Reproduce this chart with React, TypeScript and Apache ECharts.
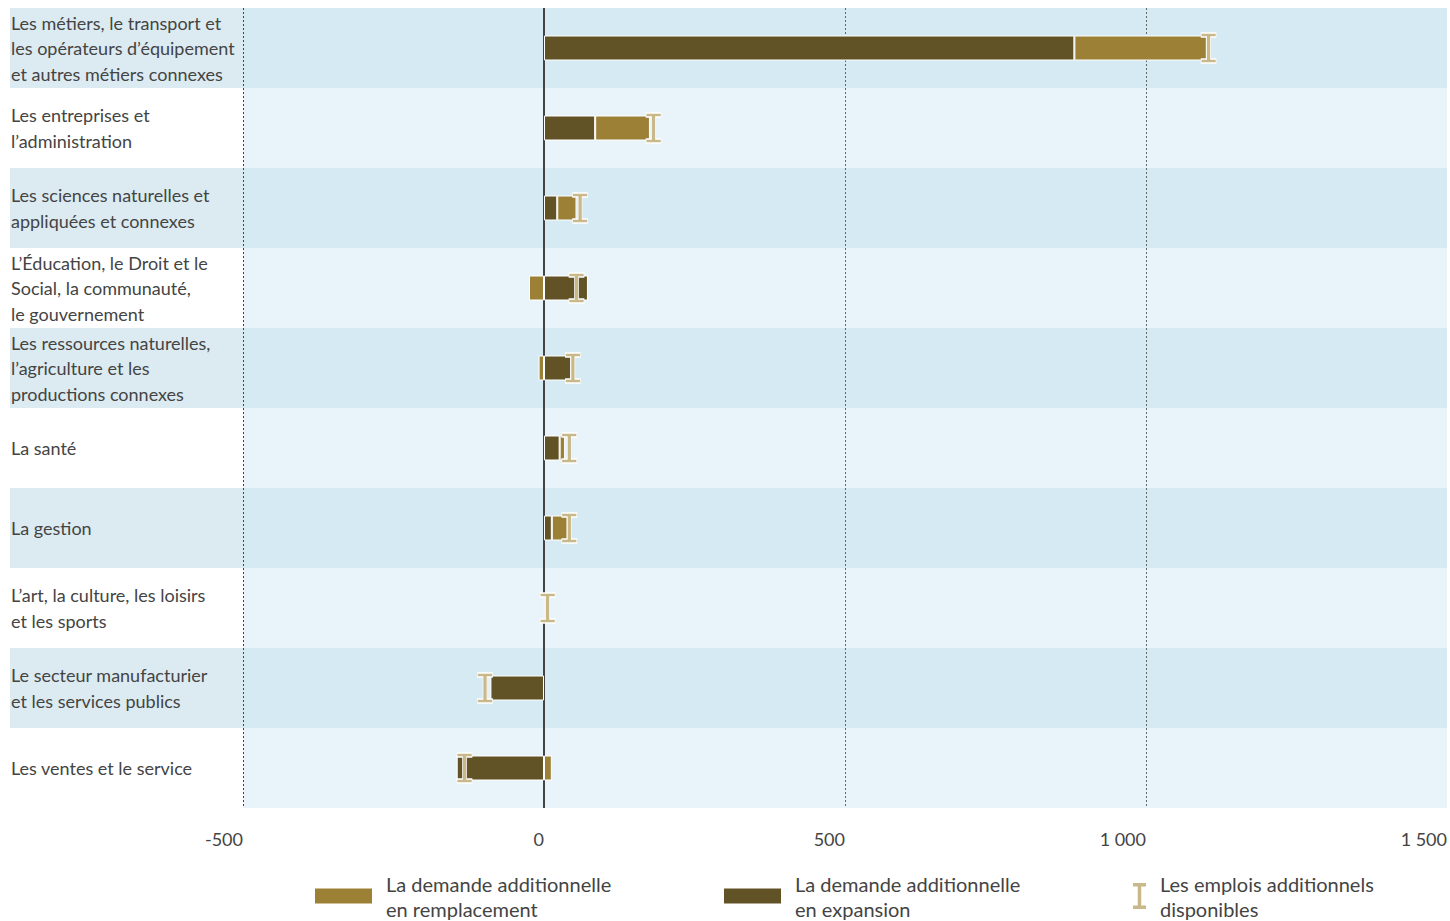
import React, { useEffect, useRef } from "react";
import * as echarts from "echarts";

const categories = [
  "Les métiers, le transport et\nles opérateurs d’équipement\net autres métiers connexes",
  "Les entreprises et\nl’administration",
  "Les sciences naturelles et\nappliquées et connexes",
  "L’Éducation, le Droit et le\nSocial, la communauté,\nle gouvernement",
  "Les ressources naturelles,\nl’agriculture et les\nproductions connexes",
  "La santé",
  "La gestion",
  "L’art, la culture, les loisirs\net les sports",
  "Le secteur manufacturier\net les services publics",
  "Les ventes et le service",
];
const expansion = [881, 85, 22, 73, 45, 26, 13, 0, -89, -145];
const replacement = [220, 91, 32, -25, -9, 9, 26, 0, -3, 13];
const available = [1104, 182, 60, 54, 48, 42, 42, 6, -98, -132];
const xTicks = [-500, 0, 500, 1000, 1500];

const NAME_REP = "La demande additionnelle en remplacement";
const NAME_EXP = "La demande additionnelle en expansion";
const NAME_AV = "Les emplois additionnels disponibles";
const LEGEND_TEXT: Record<string, string> = {
  [NAME_REP]: "La demande additionnelle\nen remplacement",
  [NAME_EXP]: "La demande additionnelle\nen expansion",
  [NAME_AV]: "Les emplois additionnels\ndisponibles",
};

const IBEAM = "path://M0,0 H15 V4 H9.5 V26 H15 V30 H0 V26 H5.5 V4 H0 Z";
const FONT = "Lato, 'Noto Sans', sans-serif";
const TXT = "#444";
const GOLD = "#9C8036";
const DARK = "#625326";
const TAN = "#C8B88A";

const fmt = (v: number) => String(v).replace(/\B(?=(\d{3})+(?!\d))/g, " ");

export default function App() {
  const ref = useRef<HTMLDivElement>(null);
  useEffect(() => {
    document.body.style.margin = "0";
    const chart = echarts.init(ref.current!, undefined, { renderer: "svg" });
    const legendCommon = {
      orient: "horizontal" as const,
      top: 871,
      padding: 0,
      selectedMode: false,
      formatter: (n: string) => LEGEND_TEXT[n] || n,
      textStyle: { fontFamily: FONT, fontSize: 20, color: TXT, lineHeight: 25, padding: [0, 0, 0, 8] },
    };
    chart.setOption({
      animation: false,
      textStyle: { fontFamily: FONT },
      grid: [
        { left: 243, width: 1207, top: 8, bottom: 113 },
        { left: 10, width: 233, top: 8, bottom: 113 },
      ],
      xAxis: [
        {
          gridIndex: 0,
          type: "value",
          min: xTicks[0],
          max: xTicks[xTicks.length - 1],
          interval: 500,
          axisLine: { show: false },
          axisTick: { show: false },
          axisLabel: {
            align: "right",
            margin: 22,
            fontSize: 18,
            color: TXT,
            fontFamily: FONT,
            formatter: (v: number) => fmt(v),
          },
          splitLine: {
            show: true,
            showMinLine: true,
            showMaxLine: false,
            lineStyle: { color: ["#444", "#444", "#666", "#666", "#666"], type: [2, 2], width: 1 },
          },
        },
        { gridIndex: 1, type: "value", show: false, min: 0, max: 1 },
      ],
      yAxis: [
        {
          gridIndex: 0,
          type: "category",
          data: categories,
          inverse: true,
          axisLine: { show: false },
          axisTick: { show: false },
          axisLabel: {
            align: "left",
            margin: 232,
            fontSize: 18,
            lineHeight: 25.5,
            color: TXT,
            fontFamily: FONT,
          },
          splitArea: { show: true, areaStyle: { color: ["#D6EAF3", "#E8F4F9"] } },
          splitLine: { show: false },
        },
        {
          gridIndex: 1,
          type: "category",
          data: categories,
          inverse: true,
          axisLine: { show: false },
          axisTick: { show: false },
          axisLabel: { show: false },
          splitArea: { show: true, areaStyle: { color: ["#DCEBF2", "#FFFFFF"] } },
          splitLine: { show: false },
        },
      ],
      legend: [
        { ...legendCommon, left: 313, data: [{ name: NAME_REP, icon: "rect" }], itemWidth: 59, itemHeight: 17 },
        { ...legendCommon, left: 722, data: [{ name: NAME_EXP, icon: "rect" }], itemWidth: 59, itemHeight: 17 },
        {
          ...legendCommon,
          left: 1133,
          data: [{ name: NAME_AV, icon: IBEAM, itemStyle: { borderWidth: 0 } }],
          itemWidth: 13,
          itemHeight: 26,
          textStyle: { ...legendCommon.textStyle, padding: [0, 0, 0, 9] },
        },
      ],
      series: [
        {
          name: NAME_EXP,
          type: "bar",
          stack: "total",
          xAxisIndex: 0,
          yAxisIndex: 0,
          barWidth: 25,
          data: expansion,
          itemStyle: { color: DARK, borderColor: "#fff", borderWidth: 1 },
          markLine: {
            silent: true,
            symbol: "none",
            label: { show: false },
            lineStyle: { color: "#444", width: 2, type: "solid" },
            data: [{ xAxis: 0 }],
            z: 1,
          },
        },
        {
          name: NAME_REP,
          type: "bar",
          stack: "total",
          xAxisIndex: 0,
          yAxisIndex: 0,
          barWidth: 25,
          data: replacement,
          itemStyle: { color: GOLD, borderColor: "#fff", borderWidth: 1 },
        },
        {
          name: NAME_AV,
          type: "scatter",
          xAxisIndex: 0,
          yAxisIndex: 0,
          symbol: IBEAM,
          symbolSize: [15, 30],
          data: available,
          z: 5,
          itemStyle: { color: TAN, borderColor: "#fff", borderWidth: 1, opacity: 1 },
        },
      ],
    });
    return () => chart.dispose();
  }, []);
  return <div ref={ref} style={{ width: 1450, height: 921 }} />;
}
